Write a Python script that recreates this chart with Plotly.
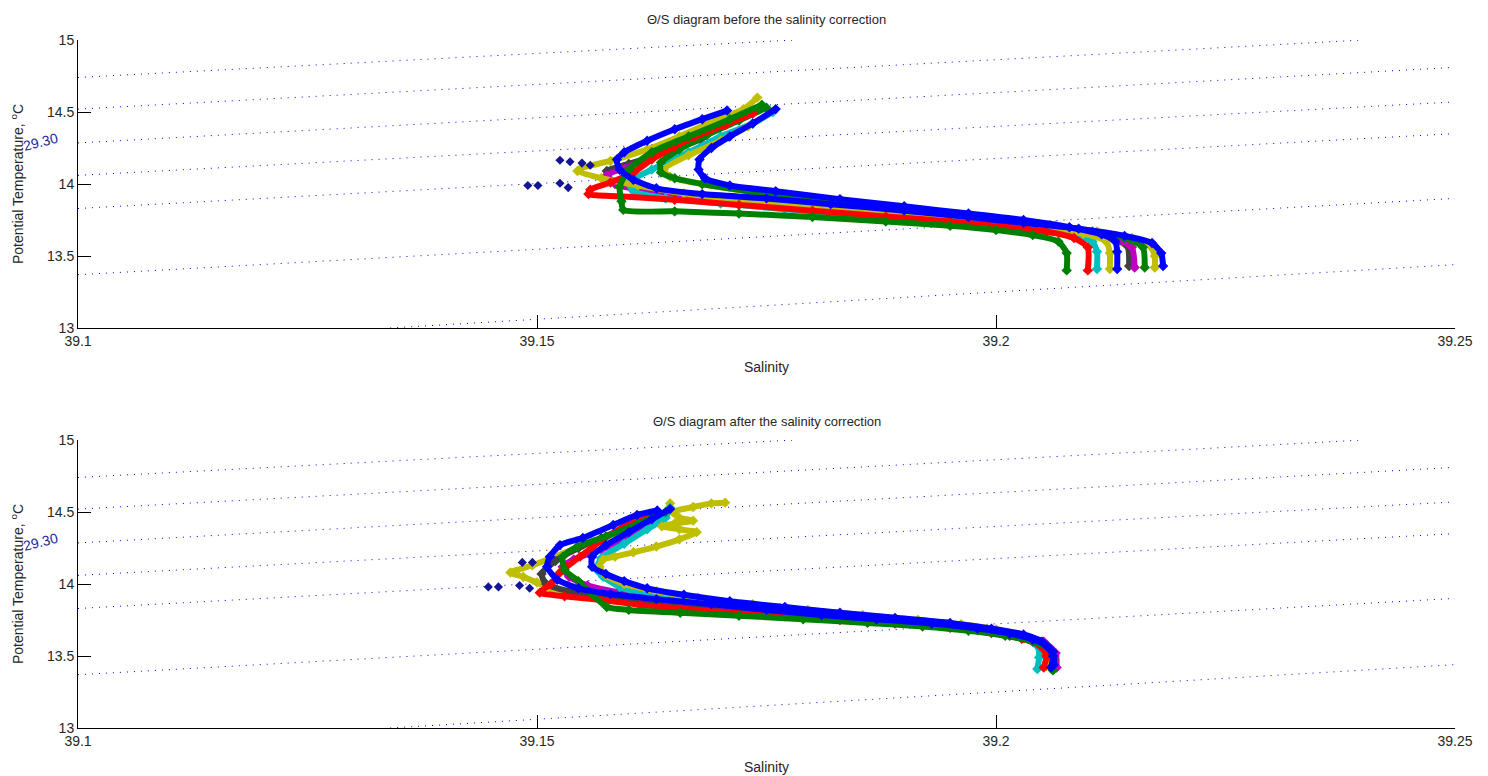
import plotly.graph_objects as go
from plotly.subplots import make_subplots

# MATLAB default colour order
BLUE = "rgb(0,0,255)"
GREEN = "rgb(0,128,0)"
RED = "rgb(255,0,0)"
CYAN = "rgb(0,191,191)"
MAGENTA = "rgb(191,0,191)"
OLIVE = "rgb(191,191,0)"
GRAY = "rgb(64,64,64)"
NAVY = "rgb(20,20,150)"

# isopycnals (sigma-theta), end points, same in both panels
iso_sal = [
    [39.1, 39.178], [39.1, 39.240], [39.1, 39.25], [39.1, 39.25],
    [39.1, 39.25], [39.1, 39.25], [39.134, 39.25],
]
iso_temp = [
    [14.74, 15.0], [14.52, 15.0], [14.285, 14.81], [14.06, 14.57],
    [13.83, 14.35], [13.37, 13.90], [13.0, 13.44],
]
iso_label = "29.30"

# ---- profiles before the correction ----
before_colors = [GRAY, MAGENTA, CYAN, OLIVE, GREEN, OLIVE, RED, GREEN, BLUE, BLUE]
before_sal = [
    [39.1720, 39.1700, 39.1678, 39.1640, 39.1600, 39.1576, 39.1578, 39.1610, 39.1660, 39.1730,
     39.1810, 39.1890, 39.1960, 39.2025, 39.2080, 39.2120, 39.2143, 39.2145],
    [39.1700, 39.1665, 39.1625, 39.1590, 39.1576, 39.1585, 39.1620, 39.1680, 39.1750, 39.1830,
     39.1910, 39.1980, 39.2040, 39.2090, 39.2130, 39.2148, 39.2151],
    [39.1757, 39.1735, 39.1700, 39.1665, 39.1625, 39.1600, 39.1605, 39.1640, 39.1700, 39.1770,
     39.1850, 39.1920, 39.1980, 39.2035, 39.2080, 39.2105, 39.2110, 39.2110],
    [39.1730, 39.1700, 39.1665, 39.1638, 39.1645, 39.1680, 39.1740, 39.1810, 39.1880, 39.1950,
     39.2010, 39.2065, 39.2110, 39.2148, 39.2168, 39.2173, 39.2173],
    [39.1750, 39.1720, 39.1685, 39.1655, 39.1635, 39.1635, 39.1650, 39.1680, 39.1730, 39.1800,
     39.1870, 39.1940, 39.2005, 39.2060, 39.2105, 39.2140, 39.2160, 39.2162],
    [39.1740, 39.1725, 39.1690, 39.1655, 39.1620, 39.1580, 39.1548, 39.1544, 39.1570, 39.1610,
     39.1660, 39.1720, 39.1790, 39.1870, 39.1940, 39.2000, 39.2050, 39.2095, 39.2120, 39.2124,
     39.2124],
    [39.1735, 39.1705, 39.1672, 39.1650, 39.1625, 39.1605, 39.1580, 39.1558, 39.1556, 39.1590,
     39.1650, 39.1720, 39.1800, 39.1880, 39.1950, 39.2010, 39.2055, 39.2085, 39.2100, 39.2100],
    [39.1745, 39.1710, 39.1665, 39.1625, 39.1600, 39.1590, 39.1592, 39.1594, 39.1650, 39.1720,
     39.1800, 39.1880, 39.1950, 39.2000, 39.2040, 39.2068, 39.2077, 39.2077],
    [39.1760, 39.1735, 39.1710, 39.1690, 39.1677, 39.1676, 39.1683, 39.1710, 39.1760, 39.1830,
     39.1900, 39.1970, 39.2030, 39.2080, 39.2115, 39.2130, 39.2132, 39.2132],
    [39.1707, 39.1680, 39.1650, 39.1620, 39.1595, 39.1587, 39.1590, 39.1605, 39.1630, 39.1680,
     39.1750, 39.1820, 39.1900, 39.1970, 39.2030, 39.2090, 39.2140, 39.2170, 39.2180, 39.2182],
]
before_temp = [
    [14.47, 14.40, 14.31, 14.22, 14.14, 14.09, 14.04, 13.98, 13.92, 13.87,
     13.825, 13.785, 13.75, 13.715, 13.675, 13.63, 13.57, 13.43],
    [14.40, 14.30, 14.18, 14.10, 14.06, 14.00, 13.95, 13.91, 13.86, 13.815,
     13.775, 13.74, 13.705, 13.665, 13.62, 13.56, 13.42],
    [14.50, 14.42, 14.33, 14.22, 14.10, 14.01, 13.95, 13.90, 13.865, 13.825,
     13.785, 13.75, 13.715, 13.68, 13.645, 13.60, 13.53, 13.41],
    [14.40, 14.30, 14.20, 14.10, 14.05, 14.00, 13.94, 13.885, 13.835, 13.79,
     13.75, 13.71, 13.67, 13.625, 13.57, 13.50, 13.42],
    [14.53, 14.44, 14.34, 14.24, 14.15, 14.08, 14.04, 14.00, 13.95, 13.89,
     13.84, 13.795, 13.75, 13.71, 13.67, 13.625, 13.56, 13.42],
    [14.60, 14.52, 14.43, 14.33, 14.24, 14.16, 14.11, 14.09, 14.04, 13.99,
     13.935, 13.885, 13.84, 13.80, 13.765, 13.73, 13.695, 13.655, 13.60, 13.52,
     13.41],
    [14.49, 14.41, 14.33, 14.26, 14.17, 14.08, 14.01, 13.96, 13.93, 13.915,
     13.89, 13.855, 13.815, 13.775, 13.74, 13.705, 13.67, 13.625, 13.56, 13.40],
    [14.55, 14.45, 14.33, 14.22, 14.10, 13.98, 13.88, 13.82, 13.81, 13.795,
     13.77, 13.74, 13.71, 13.68, 13.645, 13.60, 13.52, 13.40],
    [14.52, 14.42, 14.33, 14.25, 14.17, 14.10, 14.04, 13.99, 13.95, 13.895,
     13.845, 13.795, 13.75, 13.70, 13.65, 13.60, 13.53, 13.41],
    [14.51, 14.45, 14.38, 14.30, 14.22, 14.17, 14.10, 14.03, 13.97, 13.93,
     13.90, 13.86, 13.815, 13.77, 13.73, 13.69, 13.64, 13.59, 13.52, 13.43],
]
before_spots_sal = [39.1490, 39.1501, 39.1525, 39.1534, 39.1525, 39.1536, 39.1549, 39.1558]
before_spots_temp = [13.99, 13.99, 14.005, 13.975, 14.165, 14.155, 14.145, 14.13]

# ---- profiles after the correction ----
after_colors = [OLIVE, GRAY, MAGENTA, CYAN, OLIVE, RED, GREEN, BLUE, BLUE]
after_sal = [
    [39.1645, 39.1640, 39.1615, 39.1585, 39.1550, 39.1520, 39.1495, 39.1471, 39.1485, 39.1500,
     39.1515, 39.1550, 39.1600, 39.1660, 39.1720, 39.1780, 39.1840, 39.1900, 39.1955, 39.2000,
     39.2030, 39.2048, 39.2055, 39.2055],
    [39.1600, 39.1570, 39.1545, 39.1520, 39.1505, 39.1510, 39.1535, 39.1580, 39.1630, 39.1690,
     39.1750, 39.1810, 39.1870, 39.1930, 39.1980, 39.2015, 39.2040, 39.2054, 39.2056],
    [39.1630, 39.1626, 39.1600, 39.1570, 39.1540, 39.1528, 39.1535, 39.1555, 39.1590, 39.1640,
     39.1700, 39.1760, 39.1820, 39.1880, 39.1940, 39.1990, 39.2025, 39.2052, 39.2065, 39.2066],
    [39.1645, 39.1640, 39.1620, 39.1595, 39.1570, 39.1565, 39.1572, 39.1590, 39.1620, 39.1670,
     39.1730, 39.1790, 39.1850, 39.1910, 39.1960, 39.2000, 39.2030, 39.2045, 39.2047, 39.2045],
    [39.1705, 39.1690, 39.1670, 39.1648, 39.1655, 39.1670, 39.1650, 39.1636, 39.1655, 39.1674,
     39.1655, 39.1630, 39.1605, 39.1585, 39.1572, 39.1568, 39.1575, 39.1595, 39.1630, 39.1675,
     39.1735, 39.1795, 39.1855, 39.1915, 39.1962, 39.2000, 39.2030, 39.2050, 39.2058, 39.2058],
    [39.1620, 39.1595, 39.1570, 39.1547, 39.1525, 39.1515, 39.1503, 39.1530, 39.1569, 39.1612,
     39.1656, 39.1710, 39.1770, 39.1830, 39.1890, 39.1950, 39.1995, 39.2028, 39.2048, 39.2055,
     39.2052],
    [39.1640, 39.1610, 39.1575, 39.1544, 39.1528, 39.1530, 39.1545, 39.1560, 39.1576, 39.1600,
     39.1656, 39.1720, 39.1790, 39.1860, 39.1920, 39.1970, 39.2010, 39.2040, 39.2058, 39.2063,
     39.2062],
    [39.1645, 39.1625, 39.1600, 39.1575, 39.1560, 39.1560, 39.1575, 39.1595, 39.1620, 39.1660,
     39.1710, 39.1770, 39.1830, 39.1890, 39.1950, 39.1995, 39.2030, 39.2050, 39.2062, 39.2063],
    [39.1631, 39.1609, 39.1583, 39.1550, 39.1525, 39.1514, 39.1511, 39.1522, 39.1545, 39.1580,
     39.1630, 39.1690, 39.1750, 39.1810, 39.1870, 39.1930, 39.1980, 39.2015, 39.2040, 39.2055,
     39.2062, 39.2060],
]
after_temp = [
    [14.56, 14.49, 14.42, 14.35, 14.27, 14.19, 14.13, 14.08, 14.05, 14.01,
     13.97, 13.935, 13.90, 13.86, 13.825, 13.79, 13.76, 13.73, 13.70, 13.665,
     13.625, 13.575, 13.51, 13.43],
    [14.40, 14.32, 14.25, 14.16, 14.07, 14.00, 13.95, 13.91, 13.875, 13.84,
     13.805, 13.775, 13.745, 13.715, 13.68, 13.64, 13.60, 13.54, 13.46],
    [14.45, 14.42, 14.33, 14.24, 14.17, 14.12, 14.05, 13.99, 13.94, 13.895,
     13.855, 13.82, 13.785, 13.755, 13.72, 13.685, 13.645, 13.60, 13.52, 13.42],
    [14.53, 14.46, 14.38, 14.28, 14.18, 14.10, 14.05, 13.98, 13.93, 13.885,
     13.845, 13.805, 13.77, 13.735, 13.70, 13.665, 13.625, 13.57, 13.49, 13.41],
    [14.565, 14.56, 14.535, 14.50, 14.46, 14.44, 14.42, 14.40, 14.38, 14.36,
     14.31, 14.26, 14.22, 14.19, 14.17, 14.12, 14.06, 14.00, 13.95, 13.905,
     13.86, 13.82, 13.785, 13.75, 13.72, 13.685, 13.645, 13.595, 13.52, 13.44],
    [14.47, 14.40, 14.30, 14.19, 14.08, 14.00, 13.94, 13.915, 13.89, 13.855,
     13.83, 13.80, 13.775, 13.75, 13.725, 13.695, 13.66, 13.62, 13.57, 13.50,
     13.42],
    [14.50, 14.42, 14.33, 14.26, 14.19, 14.10, 14.02, 13.93, 13.84, 13.82,
     13.80, 13.78, 13.755, 13.73, 13.705, 13.675, 13.64, 13.60, 13.55, 13.48,
     13.40],
    [14.52, 14.45, 14.36, 14.27, 14.19, 14.12, 14.07, 14.02, 13.97, 13.925,
     13.88, 13.84, 13.80, 13.765, 13.73, 13.69, 13.65, 13.60, 13.53, 13.44],
    [14.51, 14.48, 14.41, 14.32, 14.27, 14.19, 14.12, 14.03, 13.97, 13.93,
     13.895, 13.86, 13.82, 13.785, 13.755, 13.725, 13.69, 13.655, 13.615, 13.57,
     13.50, 13.42],
]
after_spots_sal = [39.1447, 39.1458, 39.1481, 39.1492, 39.1484, 39.1495]
after_spots_temp = [13.98, 13.98, 13.99, 13.97, 14.15, 14.15]

titles = [
    "\u0398/S diagram before the salinity correction",
    "\u0398/S diagram after the salinity correction",
]

FONT = "Liberation Sans, Arial, sans-serif"
TXT = "#262626"

fig = make_subplots(rows=2, cols=1)

panels = [
    (before_sal, before_temp, before_colors, before_spots_sal, before_spots_temp),
    (after_sal, after_temp, after_colors, after_spots_sal, after_spots_temp),
]

for row, (sal, temp, colors, sp_s, sp_t) in enumerate(panels, start=1):
    for s, t in zip(iso_sal, iso_temp):
        fig.add_trace(go.Scatter(x=s, y=t, mode="lines",
                                 line=dict(color="rgb(0,0,230)", width=1, dash="1px,6px"),
                                 hoverinfo="skip", showlegend=False), row=row, col=1)
    for s, t, c in zip(sal, temp, colors):
        fig.add_trace(go.Scatter(x=s, y=t, mode="lines+markers",
                                 line=dict(color=c, width=6, shape="spline", smoothing=0.6),
                                 marker=dict(color=c, size=8, symbol="diamond"),
                                 showlegend=False), row=row, col=1)
    fig.add_trace(go.Scatter(x=sp_s, y=sp_t, mode="markers",
                             marker=dict(color=NAVY, size=7, symbol="diamond"),
                             showlegend=False), row=row, col=1)

# the page sits 8px in from the window corner; axes land at x=78..1455,
# top panel y=40..328, bottom panel y=440..728 in the screenshot
top_dom = [(728 - 328) / 688, 1.0]
bot_dom = [0.0, (728 - 440) / 688]

axis_common = dict(
    showline=True, linecolor="black", linewidth=1, mirror=False,
    ticks="inside", ticklen=13, tickcolor="black",
    showgrid=False, zeroline=False, automargin=False,
    tickfont=dict(family=FONT, size=14, color=TXT),
)

for name, dom in (("", top_dom), ("2", bot_dom)):
    fig.layout["xaxis" + name].update(
        range=[39.1, 39.25], tickvals=[39.1, 39.15, 39.2, 39.25],
        ticktext=["39.1", "39.15", "39.2", "39.25"],
        title=dict(text="Salinity", font=dict(family=FONT, size=14, color=TXT), standoff=14),
        **axis_common,
    )
    fig.layout["yaxis" + name].update(
        range=[13, 15], domain=dom, tickvals=[13, 13.5, 14, 14.5, 15],
        ticktext=["13", "13.5", "14", "14.5", "15"],
        title=dict(text="Potential Temperature, <sup>o</sup>C",
                   font=dict(family=FONT, size=14, color=TXT), standoff=22),
        **axis_common,
    )

annotations = []
for title, ytop in zip(titles, [20, 421]):
    annotations.append(dict(text=title, x=0.5, xref="paper", y=(728 - ytop) / 688, yref="paper",
                            xanchor="center", yanchor="middle", showarrow=False,
                            font=dict(family=FONT, size=13, color=TXT)))
for ylab in (142, 542):
    annotations.append(dict(text=iso_label, x=(40 - 78) / 1377, xref="paper",
                            y=(728 - ylab) / 688, yref="paper",
                            xanchor="center", yanchor="middle",
                            showarrow=False, textangle=-14,
                            font=dict(family=FONT, size=14, color="rgb(30,30,160)")))

fig.update_layout(
    width=1480, height=768,
    margin=dict(l=70, r=33, t=32, b=48),
    plot_bgcolor="white", paper_bgcolor="white",
    annotations=annotations,
    showlegend=False,
)

fig.write_html("out.html")
